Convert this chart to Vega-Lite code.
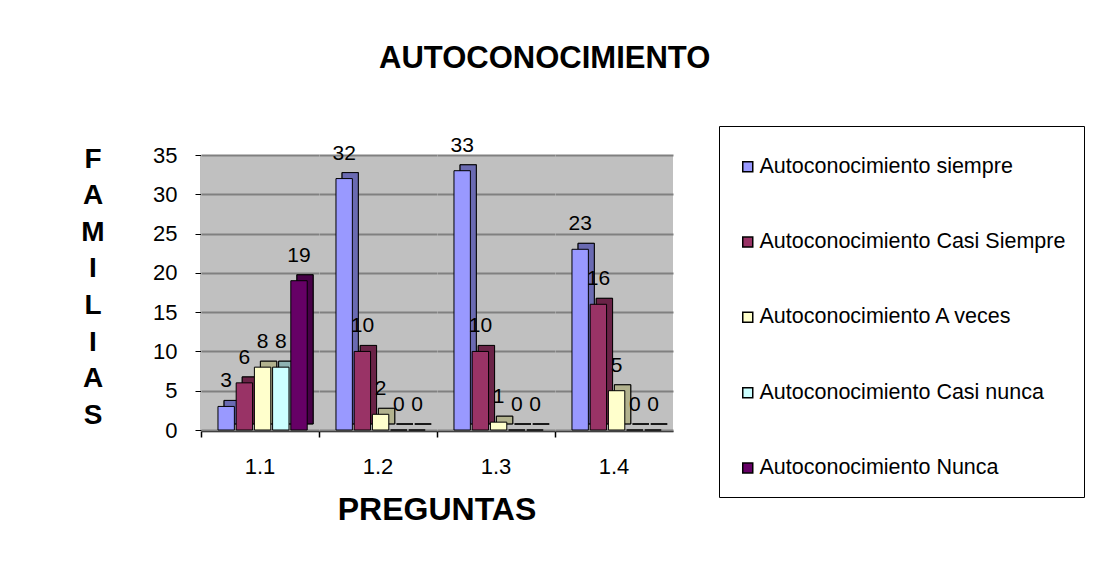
{
  "$schema": "https://vega.github.io/schema/vega-lite/v6.json",
  "padding": {"left": 80, "top": 42, "right": 5, "bottom": 5},
  "background": "white",
  "title": {"text": "AUTOCONOCIMIENTO", "fontSize": 31, "font": "Liberation Sans", "fontWeight": "bold", "color": "black", "anchor": "middle", "frame": "bounds", "offset": 51, "dx": -38},
  "data": {"values": [
    {"pregunta": "1.1", "serie": "Autoconocimiento siempre", "valor": 3},
    {"pregunta": "1.1", "serie": "Autoconocimiento Casi Siempre", "valor": 6},
    {"pregunta": "1.1", "serie": "Autoconocimiento A veces", "valor": 8},
    {"pregunta": "1.1", "serie": "Autoconocimiento Casi nunca", "valor": 8},
    {"pregunta": "1.1", "serie": "Autoconocimiento Nunca", "valor": 19},
    {"pregunta": "1.2", "serie": "Autoconocimiento siempre", "valor": 32},
    {"pregunta": "1.2", "serie": "Autoconocimiento Casi Siempre", "valor": 10},
    {"pregunta": "1.2", "serie": "Autoconocimiento A veces", "valor": 2},
    {"pregunta": "1.2", "serie": "Autoconocimiento Casi nunca", "valor": 0},
    {"pregunta": "1.2", "serie": "Autoconocimiento Nunca", "valor": 0},
    {"pregunta": "1.3", "serie": "Autoconocimiento siempre", "valor": 33},
    {"pregunta": "1.3", "serie": "Autoconocimiento Casi Siempre", "valor": 10},
    {"pregunta": "1.3", "serie": "Autoconocimiento A veces", "valor": 1},
    {"pregunta": "1.3", "serie": "Autoconocimiento Casi nunca", "valor": 0},
    {"pregunta": "1.3", "serie": "Autoconocimiento Nunca", "valor": 0},
    {"pregunta": "1.4", "serie": "Autoconocimiento siempre", "valor": 23},
    {"pregunta": "1.4", "serie": "Autoconocimiento Casi Siempre", "valor": 16},
    {"pregunta": "1.4", "serie": "Autoconocimiento A veces", "valor": 5},
    {"pregunta": "1.4", "serie": "Autoconocimiento Casi nunca", "valor": 0},
    {"pregunta": "1.4", "serie": "Autoconocimiento Nunca", "valor": 0}
  ]},
  "facet": {
    "column": {
      "field": "pregunta", "type": "ordinal", "title": "PREGUNTAS",
      "header": {
        "labelOrient": "bottom", "titleOrient": "bottom",
        "labelFont": "Liberation Sans", "labelFontSize": 22, "labelColor": "black", "labelPadding": 19,
        "titleFont": "Liberation Sans", "titleFontSize": 32, "titleFontWeight": "bold", "titleColor": "black", "titlePadding": 7
      }
    }
  },
  "spacing": 0,
  "spec": {
    "width": 118,
    "height": 275,
    "encoding": {
      "x": {
        "field": "serie", "type": "nominal",
        "sort": ["Autoconocimiento siempre", "Autoconocimiento Casi Siempre", "Autoconocimiento A veces", "Autoconocimiento Casi nunca", "Autoconocimiento Nunca"],
        "scale": {"paddingInner": 0.1, "paddingOuter": 0.79, "align": 0.59},
        "axis": {"labels": false, "ticks": true, "values": ["Autoconocimiento siempre"], "bandPosition": 0, "tickOffset": -17, "tickSize": 6, "tickColor": "black", "tickWidth": 1.5, "title": null, "domain": true, "domainColor": "black", "domainWidth": 1.5, "grid": false}
      },
      "y": {
        "field": "valor", "type": "quantitative",
        "scale": {"domain": [0, 35]},
        "axis": {
          "values": [0, 5, 10, 15, 20, 25, 30, 35],
          "title": ["F", "A", "M", "I", "L", "I", "A", "S"],
          "titleAngle": 0, "titleAlign": "center", "titleBaseline": "middle",
          "titleX": -108.5, "titleY": 4, "titleLineHeight": 36.6,
          "titleFont": "Liberation Sans", "titleFontSize": 28, "titleFontWeight": "bold", "titleColor": "black",
          "labelFont": "Liberation Sans", "labelFontSize": 22, "labelColor": "black", "labelPadding": 18,
          "domainColor": "black", "domainWidth": 1.5, "tickColor": "black", "tickSize": 6,
          "grid": true, "gridColor": "#808080", "gridWidth": 2
        }
      }
    },
    "layer": [
      {
        "mark": {"type": "bar", "xOffset": 6, "yOffset": -6, "stroke": "black", "strokeWidth": 0.8},
        "encoding": {
          "color": {
            "field": "serie", "type": "nominal",
            "scale": {
              "domain": ["Autoconocimiento siempre", "Autoconocimiento Casi Siempre", "Autoconocimiento A veces", "Autoconocimiento Casi nunca", "Autoconocimiento Nunca"],
              "range": ["#9999FF", "#993366", "#FFFFCC", "#CCFFFF", "#660066"]
            },
            "legend": {
              "orient": "none", "legendX": 518, "legendY": -29, "title": " ", "titleFontSize": 12, "titlePadding": 0,
              "strokeColor": "black", "fillColor": "white", "padding": 18,
              "labelFont": "Liberation Sans", "labelFontSize": 21.5, "labelColor": "black", "labelLimit": 500, "labelOffset": 1,
              "symbolType": "square", "symbolSize": 100, "symbolStrokeColor": "black", "symbolStrokeWidth": 1.5,
              "rowPadding": 52.3
            }
          }
        }
      },
      {
        "mark": {"type": "bar", "xOffset": 6, "yOffset": -6, "fill": "black", "fillOpacity": 0.3, "stroke": "black", "strokeWidth": 0.8}
      },
      {
        "mark": {"type": "bar", "stroke": "black", "strokeWidth": 1},
        "encoding": {
          "color": {
            "field": "serie", "type": "nominal",
            "scale": {
              "domain": ["Autoconocimiento siempre", "Autoconocimiento Casi Siempre", "Autoconocimiento A veces", "Autoconocimiento Casi nunca", "Autoconocimiento Nunca"],
              "range": ["#9999FF", "#993366", "#FFFFCC", "#CCFFFF", "#660066"]
            },
            "legend": {
              "orient": "none", "legendX": 518, "legendY": -29, "title": " ", "titleFontSize": 12, "titlePadding": 0,
              "strokeColor": "black", "fillColor": "white", "padding": 18,
              "labelFont": "Liberation Sans", "labelFontSize": 21.5, "labelColor": "black", "labelLimit": 500, "labelOffset": 1,
              "symbolType": "square", "symbolSize": 100, "symbolStrokeColor": "black", "symbolStrokeWidth": 1.5,
              "rowPadding": 52.3
            }
          }
        }
      },
      {
        "mark": {"type": "text", "dy": -25, "font": "Liberation Sans", "fontSize": 21, "color": "black"},
        "encoding": {"text": {"field": "valor", "type": "quantitative"}}
      }
    ]
  },
  "config": {
    "view": {"fill": "#C0C0C0", "stroke": null}
  }
}
